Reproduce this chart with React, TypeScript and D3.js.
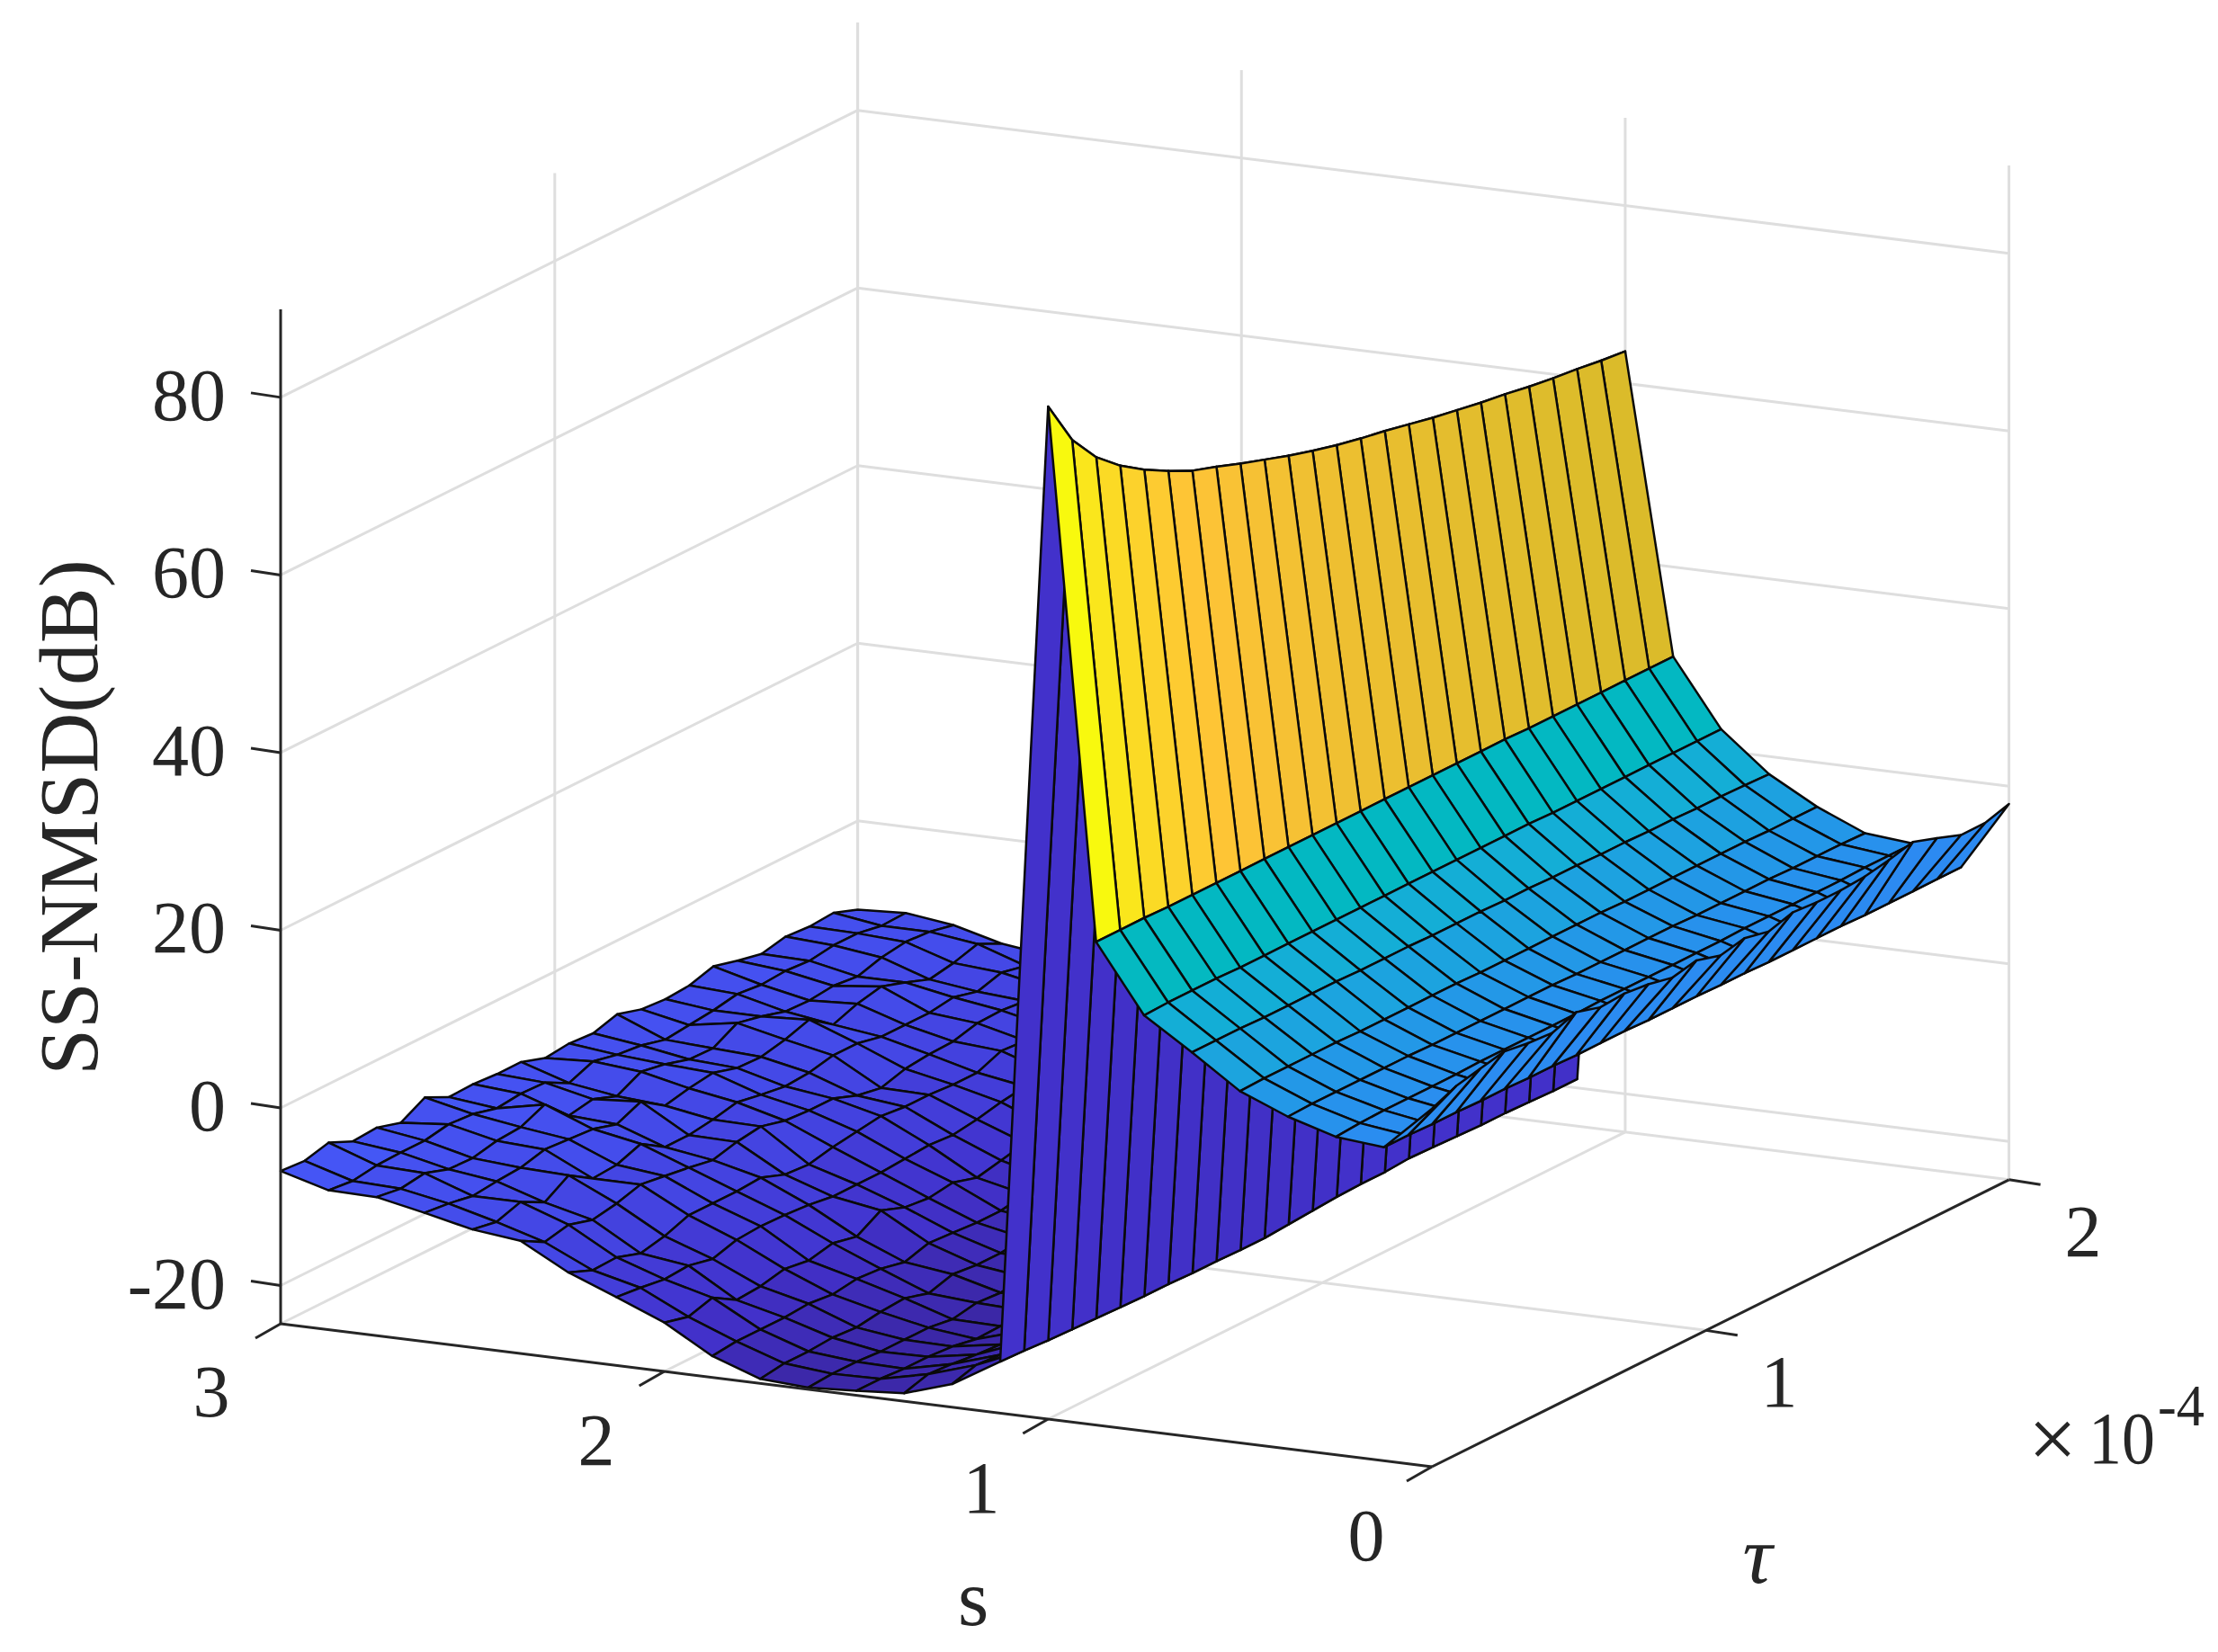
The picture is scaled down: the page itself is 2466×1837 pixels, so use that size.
import React from "react";
import * as d3 from "d3";

// s runs from 3 down to 0 in 25 rows, tau across 25 columns (units of 1e-4)
const sTicks = [3, 2, 1, 0];
const tauTicks = [1, 2];
const zTicks = [-20, 0, 20, 40, 60, 80];
const sLimits = [3, 0];
const tauLimits = [0.095, 2];
const zLimits = [-24.3, 89.9];

const zNoise: number[][] = [
  [-7.1,-7.3,-6.6,-7.8,-7.6,-8.4,-6.9,-8.2,-8.1,-8.3,-8.3,-9.2,-8.9,-9.1,-8.3,-9.1,-9.3,-9.1,-8.3,-9,-9.6,-9,-9.2,-9,-10],
  [-8.6,-8.9,-8.5,-8.4,-8.4,-7.9,-8.1,-8.8,-8.5,-8.6,-10,-8.9,-9.5,-9.8,-10.5,-10.2,-9.9,-9.4,-9.7,-9.5,-9.7,-9.3,-9.3,-9.8,-9.7],
  [-8.7,-9.1,-8.7,-9.6,-9.7,-9.1,-8.9,-7.7,-10.3,-9.8,-10.8,-9.4,-9.9,-10.7,-10.8,-9.3,-9.9,-10.7,-10.8,-10.5,-10.8,-10,-9.6,-9.8,-10.4],
  [-9.8,-10.1,-10.6,-10.3,-10.1,-9.4,-9.6,-9.8,-10.6,-9.4,-11.2,-10.6,-10.2,-11,-11.1,-10.5,-9.6,-11.5,-10.5,-9.9,-10.8,-11.8,-11.3,-10.5,-11.8],
  [-11,-11.5,-10.6,-12,-10.3,-12,-11.8,-10.8,-12.5,-12.5,-12.1,-11.5,-12,-12.4,-12.2,-11.6,-11.6,-12.2,-12.2,-12.2,-11.8,-12.5,-11.7,-12.3,-12.5],
  [-11.6,-13.1,-12.5,-13.3,-12.8,-12,-12.4,-12.8,-13.3,-12.6,-12.2,-12.9,-13.1,-13.1,-14.1,-14.6,-13.8,-13.5,-13.4,-12.7,-12.6,-12.9,-12.8,-13.1,-13.3],
  [-14.5,-15.6,-15.5,-16.4,-15.8,-14.8,-14.8,-14.8,-14.6,-15.6,-15.8,-15.2,-14.8,-14.4,-14.7,-14.7,-14.9,-14.9,-13.8,-14,-13.8,-14.2,-14,-14.3,-14.5],
  [-16.6,-16.9,-17.3,-17.1,-17.7,-16.9,-16.7,-16.8,-17,-17.4,-17.4,-17.4,-17.2,-17,-17.2,-16.8,-16.2,-15.8,-15.6,-15.8,-15.4,-15.6,-15.5,-15.8,-15.6],
  [-18.8,-19.5,-18.7,-20.3,-20.1,-19.5,-19.9,-19.3,-19.9,-18.3,-19.3,-19.6,-19.2,-20,-19.4,-18.8,-18.4,-18,-17.8,-17.6,-17.4,-17.2,-17,-17,-16.8],
  [-21.9,-21.6,-21.6,-21.6,-21.4,-21.7,-21.3,-21.5,-22.1,-21.3,-21.5,-21.7,-21.7,-21.2,-20.8,-20.4,-20,-19.6,-19.2,-19,-18.8,-18.6,-18.4,-18.2,-18],
  [-23.8,-23.4,-23.4,-23.2,-23.4,-23,-22.8,-23.6,-22.8,-23.1,-23.1,-22.8,-22.4,-22,-21.6,-21.2,-20.8,-20.4,-20,-19.8,-19.6,-19.4,-19.2,-19,-18.8],
  [-24.1,-23.9,-23.9,-24.1,-24.1,-24.1,-24.5,-24,-24.2,-23.8,-23.4,-23,-22.6,-22.2,-21.8,-21.4,-21,-20.6,-20.4,-20.2,-20,-19.8,-19.6,-19.4,-19.2],
  [-23.8,-23.8,-24,-24,-24.2,-24.7,-24.6,-24.2,-23.8,-23.4,-23,-22.6,-22.2,-21.8,-21.4,-21,-20.8,-20.6,-20.4,-20.2,-20,-19.8,-19.6,-19.4,-19.2],
  [-23.4,-22.6,-22.8,-23.1,-23.3,-23.1,-22.9,-22.6,-22.3,-22,-21.7,-21.4,-21.1,-20.8,-20.5,-20.2,-20,-19.8,-19.6,-19.4,-19.3,-19.2,-19.1,-19,-18.9],
  [-21.7,-20.9,-21.1,-21,-20.9,-20.8,-20.7,-20.6,-20.5,-20.4,-20.3,-20.2,-20.1,-20,-19.9,-19.8,-19.7,-19.6,-19.5,-19.4,-19.3,-19.2,-19.1,-19,-19],
  [-18.5,-18.6,-18.8,-18.9,-19,-19.1,-19.2,-19.2,-19.3,-19.3,-19.4,-19.4,-19.2,-19,-18.8,-18.7,-18.7,-18.5,-18.6,-18.7,-18.8,-18.8,-18.9,-19,-19],
];
const zRidge = [89.7,84.6,81.3,79,77.2,75.7,74.4,73.5,72.5,71.6,70.7,69.9,69.2,68.6,68.1,67.5,66.9,66.4,65.9,65.5,65,64.6,64.3,63.9,63.6];
const zBowl875 = [30.1,30.1,30.1,30,30,30,30,30,30,30,30,30,30,30,30,30,30,30,29.9,29.9,29.9,29.9,29.9,29.9,29.9];
const zBowl750 = [22.5,22.6,22.6,22.6,22.5,22.5,22.5,22.5,22.5,22.5,22.5,22.5,22.5,22.5,22.5,22.5,22.5,22.4,22.4,22.4,22.4,22.4,22.4,22.4,22.4];
const zBowl625 = [19,19,19,18.9,18.9,18.9,18.9,18.8,18.8,18.8,18.7,18.7,18.7,18.6,18.6,18.5,18.5,18.4,18.4,18.3,18.3,18.2,18.2,18.1,18];
const zBowl500 = [15.3,15.4,15.4,15.4,15.4,15.3,15.3,15.3,15.3,15.3,15.2,15.2,15.2,15.2,15.2,15.2,15.1,15.1,15.1,15.1,15.1,15.1,15,15,15];
const zBowl375 = [13.1,13.2,13.2,13.2,13.2,13.2,13.1,13.1,13.1,13.1,13.1,13.1,13,13,13,13,13,12.9,12.9,12.9,12.9,12.8,12.8,12.8,12.7];
const zBowl250 = [11.5,11.7,11.8,11.8,11.8,11.8,11.9,11.9,11.9,11.9,11.9,12,12,12,12,12,12,12.1,12.1,12.1,12.1,12.1,12.2,12.2,12.2];
const zBowl125 = [11,11,10.9,10.9,10.8,10.8,10.7,10.7,10.6,10.6,10.6,10.5,10.5,10.5,10.4,10.4,10.3,10.3,10.3,10.3,10.2,10.2,10.2,10.2,10.2];
const zLip = [16,17.2,17.8,18.4,18,17.8,18.8,18,18.2,17.9,17.3,17.9,17.1,17.7,17.1,17.9,17.7,17.7,17.9,18.4,19.1,18.2,17.2,17.2,18];

const zGrid: number[][] = [...zNoise, zRidge, zBowl875, zBowl750, zBowl625, zBowl500, zBowl375, zBowl250, zBowl125, zLip];
const nRows = zGrid.length;
const nCols = zRidge.length;

const colorPositions = [0, 0.05, 0.15, 0.25, 0.31, 0.35, 0.4, 0.47, 0.6, 0.7, 0.77, 0.87, 1];
const colorValues = ["#3b27a6","#4231cb","#4555f5","#2f7ff2","#2b8cf1","#2299e6","#17acd9","#00b8c4","#4cc38e","#aabf55","#dabb2a","#fec337","#f8fa0d"];

const INK = "#262626";
const GRID = "#dedede";
const FONT = "'Liberation Serif', 'Times New Roman', serif";

const origin = { x: 312, y: 1472 };
const sX = d3.scaleLinear().domain(sLimits).range([0, 1280]);
const sY = d3.scaleLinear().domain(sLimits).range([0, 159]);
const tauX = d3.scaleLinear().domain(tauLimits).range([0, 641.6]);
const tauY = d3.scaleLinear().domain(tauLimits).range([0, -319.2]);
const zY = d3.scaleLinear().domain(zLimits).range([0, -1127.9]);
const color = d3
  .scaleLinear<string>()
  .domain(colorPositions.map((t) => zLimits[0] + t * (zLimits[1] - zLimits[0])))
  .range(colorValues)
  .interpolate(d3.interpolateRgb)
  .clamp(true);

const px = (s: number, tau: number) => origin.x + sX(s) + tauX(tau);
const py = (s: number, tau: number, z: number) => origin.y + sY(s) + tauY(tau) + zY(z);
const sOf = d3.scaleLinear().domain([0, nRows - 1]).range(sLimits);
const tauOf = d3.scaleLinear().domain([0, nCols - 1]).range(tauLimits);

type P = [number, number];
const P3 = (s: number, tau: number, z: number): P => [px(s, tau), py(s, tau, z)];
const line = d3.line<P>();

function Seg({ a, b, c, w }: { a: P; b: P; c: string; w: number }) {
  return <line x1={a[0]} y1={a[1]} x2={b[0]} y2={b[1]} stroke={c} strokeWidth={w} />;
}

export default function App() {
  const [tau0, tau2] = tauLimits;
  const [s3, s0] = sLimits;
  const [zMin, zMax] = zLimits;

  const grid: React.ReactNode[] = [];
  const g = (a: P, b: P) =>
    grid.push(<Seg key={grid.length} a={a} b={b} c={GRID} w={3} />);
  zTicks.forEach((z) => {
    g(P3(s3, tau0, z), P3(s3, tau2, z));
    g(P3(s3, tau2, z), P3(s0, tau2, z));
  });
  sTicks.forEach((s) => {
    g(P3(s, tau2, zMin), P3(s, tau2, zMax));
    if (s !== s3) g(P3(s, tau0, zMin), P3(s, tau2, zMin));
  });
  tauTicks.forEach((t) => {
    g(P3(s3, t, zMin), P3(s3, t, zMax));
    g(P3(s3, t, zMin), P3(s0, t, zMin));
  });
  g(P3(s3, tau0, zMin), P3(s3, tau2, zMin));

  const faces: React.ReactNode[] = [];
  for (let k = 0; k < nRows - 1; k++) {
    for (let i = nCols - 2; i >= 0; i--) {
      const pts: P[] = [
        P3(sOf(k), tauOf(i), zGrid[k][i]),
        P3(sOf(k), tauOf(i + 1), zGrid[k][i + 1]),
        P3(sOf(k + 1), tauOf(i + 1), zGrid[k + 1][i + 1]),
        P3(sOf(k + 1), tauOf(i), zGrid[k + 1][i]),
      ];
      faces.push(
        <path
          key={`${k}-${i}`}
          d={line(pts) + "Z"}
          fill={color(zGrid[k][i])}
          stroke="#0a0a0a"
          strokeWidth={2.5}
          strokeLinejoin="round"
        />
      );
    }
  }

  const tickText = { fontFamily: FONT, fontSize: 82, fill: INK } as const;
  const sLabelPos: Record<number, [number, number]> = { 3: [235, 1575], 2: [663, 1629], 1: [1091, 1682], 0: [1519, 1735] };
  const tauLabelPos: Record<number, [number, number]> = { 1: [1978, 1564], 2: [2316, 1397] };

  return (
    <svg
      width={2466}
      height={1837}
      viewBox="0 0 2466 1837"
      style={{ position: "absolute", left: 0, top: 0, background: "#fff" }}
    >
      <g>{grid}</g>
      <g>{faces}</g>
      <g>
        <Seg a={P3(s3, tau0, zMin)} b={P3(s3, tau0, zMax)} c={INK} w={3} />
        <Seg a={P3(s3, tau0, zMin)} b={P3(s0, tau0, zMin)} c={INK} w={3} />
        <Seg a={P3(s0, tau0, zMin)} b={P3(s0, tau2, zMin)} c={INK} w={3} />
        {zTicks.map((z) => {
          const a = P3(s3, tau0, z);
          return <Seg key={z} a={a} b={[a[0] - 33, a[1] - 5]} c={INK} w={3} />;
        })}
        {sTicks.map((s) => {
          const a = P3(s, tau0, zMin);
          return <Seg key={s} a={a} b={[a[0] - 28, a[1] + 16]} c={INK} w={3} />;
        })}
        {tauTicks.map((t) => {
          const a = P3(s0, t, zMin);
          return <Seg key={t} a={a} b={[a[0] + 35, a[1] + 5.4]} c={INK} w={3} />;
        })}
      </g>
      <g>
        {zTicks.map((z) => (
          <text key={z} x={251} y={py(s3, tau0, z) + 25} textAnchor="end" {...tickText}>
            {z}
          </text>
        ))}
        {sTicks.map((s) => (
          <text key={s} x={sLabelPos[s][0]} y={sLabelPos[s][1]} textAnchor="middle" {...tickText}>
            {s}
          </text>
        ))}
        {tauTicks.map((t) => (
          <text key={t} x={tauLabelPos[t][0]} y={tauLabelPos[t][1]} textAnchor="middle" {...tickText}>
            {t}
          </text>
        ))}
        <text x={2255} y={1632} fontFamily={FONT} fontSize={96} fill={INK}>×</text>
        <text x={2322} y={1627} textLength={74} lengthAdjust="spacingAndGlyphs" {...tickText}>10</text>
        <text x={2399} y={1585} textLength={52} lengthAdjust="spacingAndGlyphs" fontFamily={FONT} fontSize={66} fill={INK}>-4</text>
        <text x={1082} y={1807} textAnchor="middle" fontFamily={FONT} fontSize={88} fill={INK}>s</text>
        <text x={1954} y={1760} textAnchor="middle" fontFamily={FONT} fontSize={92} fontStyle="italic" fill={INK}>τ</text>
        <text
          transform="translate(108,909) rotate(-90)"
          textAnchor="middle"
          fontFamily={FONT}
          fontSize={93}
          fill={INK}
        >
          SS-NMSD(dB)
        </text>
      </g>
    </svg>
  );
}
